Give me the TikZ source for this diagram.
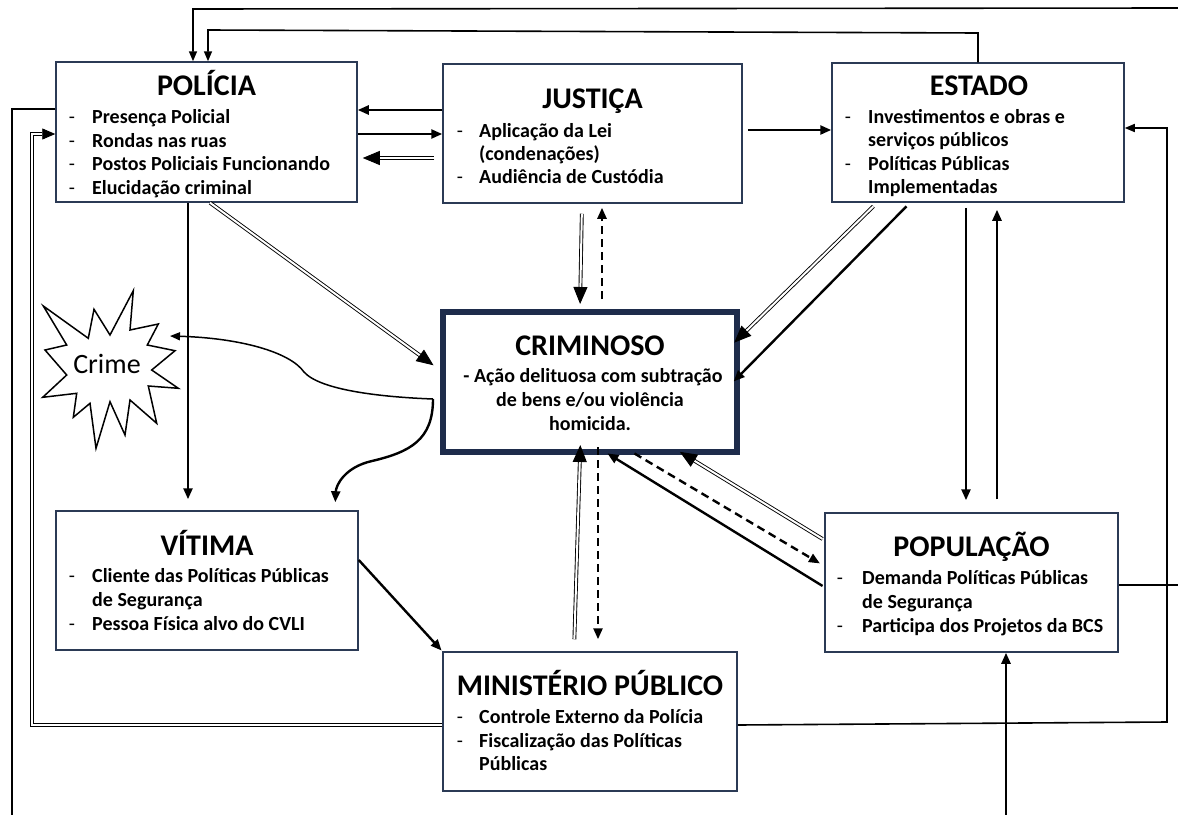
\documentclass[tikz,border=0pt]{standalone}
\usepackage{fontspec}
\setmainfont{Carlito}
\usetikzlibrary{arrows.meta}
\definecolor{boxblue}{HTML}{2B3A55}
\definecolor{crimblue}{HTML}{1E2C4B}
\begin{document}
\begin{tikzpicture}[x=1pt,y=-1pt,
  box/.style={draw=boxblue, line width=1.5pt, fill=white, inner sep=0pt},
  crimbox/.style={draw=crimblue, line width=6pt, fill=white, inner sep=0pt},
  ttl/.style={font=\fontsize{30}{36}\selectfont\bfseries, inner sep=0pt, anchor=base},
  itm/.style={font=\fontsize{20}{24}\selectfont\bfseries, inner sep=0pt, anchor=base west},
  hy/.style={font=\fontsize{20}{24}\selectfont, inner sep=0pt, anchor=base},
  tip/.style={-{Triangle[length=11pt,width=9pt]}},
  thintip/.style={-{Triangle[length=10pt,width=8pt]}},
  conn/.style={line width=2.4pt, tip},
  loopline/.style={line width=1.6pt},
  dblline/.style={double, double distance=2pt, line width=0.9pt, line join=miter},
  dbl/.style={dblline, -{Triangle[length=17pt,width=14pt]}},
  dsh/.style={line width=2.4pt, dash pattern=on 8pt off 5pt, tip},
]
\useasboundingbox[fill=white] (0,0) rectangle (1178,814);

% ---------- boxes ----------
\node[box, minimum width=301pt, minimum height=140pt] (pol) at (206.5,132) {};
\node[box, minimum width=299pt, minimum height=139pt] (jus) at (592.5,133.5) {};
\node[box, minimum width=292pt, minimum height=139pt] (est) at (978,132.5) {};
\node[crimbox, minimum width=294pt, minimum height=140pt] (crim) at (590,382) {};
\node[box, minimum width=302pt, minimum height=139pt] (vit) at (207,580.5) {};
\node[box, minimum width=294pt, minimum height=139pt] (mp) at (590,721.5) {};
\node[box, minimum width=293pt, minimum height=139pt] (pop) at (971.5,582.5) {};

% ---------- texts: POLICIA ----------
\node[ttl] (polT) at (206.5,95) {POLÍCIA};
\node[hy] (polD1) at (72,123) {-};
\node[hy] (polD2) at (72,147) {-};
\node[hy] (polD3) at (72,170) {-};
\node[hy] (polD4) at (72,194) {-};
\node[itm] (polI1) at (92,123) {Presença Policial};
\node[itm] (polI2) at (92,147) {Rondas nas ruas};
\node[itm] (polI3) at (92,170) {Postos Policiais Funcionando};
\node[itm] (polI4) at (92,194) {Elucidação criminal};

% ---------- JUSTICA ----------
\node[ttl] (jusT) at (592.5,108) {JUSTIÇA};
\node[hy] (jusD1) at (460,137) {-};
\node[hy] (jusD2) at (460,183.5) {-};
\node[itm] (jusI1) at (479,137) {Aplicação da Lei};
\node[itm] (jusI1b) at (479,160) {(condenações)};
\node[itm] (jusI2) at (479,183.5) {Audiência de Custódia};

% ---------- ESTADO ----------
\node[ttl] (estT) at (979,95) {ESTADO};
\node[hy] (estD1) at (848,123) {-};
\node[hy] (estD2) at (848,170) {-};
\node[itm] (estI1) at (868,123) {Investimentos e obras e};
\node[itm] (estI1b) at (868,146.5) {serviços públicos};
\node[itm] (estI2) at (868,170) {Políticas Públicas};
\node[itm] (estI2b) at (868,193.5) {Implementadas};

% ---------- CRIMINOSO ----------
\node[ttl] (crimT) at (590,355.5) {CRIMINOSO};
\node[itm, anchor=base] (crimI1) at (593,382.5) {- Ação delituosa com subtração};
\node[itm, anchor=base] (crimI2) at (590,406.5) {de bens e/ou violência};
\node[itm, anchor=base] (crimI3) at (590,430) {homicida.};

% ---------- VITIMA ----------
\node[ttl] (vitT) at (207,555) {VÍTIMA};
\node[hy] (vitD1) at (72,582.5) {-};
\node[hy] (vitD2) at (72,630) {-};
\node[itm] (vitI1) at (92,582.5) {Cliente das Políticas Públicas};
\node[itm] (vitI1b) at (92,606.5) {de Segurança};
\node[itm] (vitI2) at (92,630) {Pessoa Física alvo do CVLI};

% ---------- MINISTERIO PUBLICO ----------
\node[ttl] (mpT) at (590,695) {MINISTÉRIO PÚBLICO};
\node[hy] (mpD1) at (460,723.5) {-};
\node[hy] (mpD2) at (460,747) {-};
\node[itm] (mpI1) at (479,723.5) {Controle Externo da Polícia};
\node[itm] (mpI2) at (479,747) {Fiscalização das Políticas};
\node[itm] (mpI2b) at (479,770.5) {Públicas};

% ---------- POPULACAO ----------
\node[ttl] (popT) at (971.5,556) {POPULAÇÃO};
\node[hy] (popD1) at (840,584.5) {-};
\node[hy] (popD2) at (840,632.5) {-};
\node[itm] (popI1) at (862,584.5) {Demanda Políticas Públicas};
\node[itm] (popI1b) at (862,608.5) {de Segurança};
\node[itm] (popI2) at (862,632.5) {Participa dos Projetos da BCS};

% ---------- Crime starburst ----------
\draw[line width=1.5pt, fill=white, line join=miter]
  (43.3,306) -- (88.3,338.3) -- (94,309.3) -- (110,335) -- (133.3,290.7)
  -- (130,330) -- (158.3,324) -- (147.3,345) -- (175,350.7) -- (151.7,370)
  -- (178.3,388.3) -- (148.3,386) -- (156.7,423.3) -- (130,400) -- (125,435)
  -- (110,401.7) -- (96,448.3) -- (90,403.3) -- (73.3,417.3) -- (76.7,393.3)
  -- (42.7,397.3) -- (66.7,375) -- (45,350) -- (66.7,345) -- cycle;
\node[font=\fontsize{28}{30}\selectfont, inner sep=0pt, anchor=base] (crime) at (107,373.3) {Crime};
\coordinate (crimetip) at (170,336);
\coordinate (cj) at (433,399);

% ---------- outer loops ----------
\coordinate (topR) at (1180,8);
\draw[loopline, thintip] (topR) -- (193,9) -- (193,0 |- pol.north);
\draw[loopline, thintip] (978,0 |- est.north) -- (978,33) -- (208,30) -- (208,0 |- pol.north);

\coordinate (leftB) at (12,816);
\draw[loopline] (pol.west |- 0,109) -- (12,109) -- (leftB);
\draw[dblline, -{Triangle[length=13pt,width=11pt]}] (mp.west |- 0,725) -- (32,725) -- (32,134) -- (pol.west |- 0,134);

\draw[loopline, thintip] (mp.east |- 0,725) -- (1167,722) -- (1167,128) -- (est.east |- 0,128);
\coordinate (popR) at (1180,585);
\draw[loopline] (pop.east |- 0,585) -- (popR);
\coordinate (botP) at (1006,816);
\draw[conn] (botP) -- (1006,0 |- pop.south);

% ---------- Policia / Justica / Estado ----------
\draw[conn] (jus.west |- 0,110) -- (pol.east |- 0,110);
\draw[conn] (pol.east |- 0,134) -- (jus.west |- 0,134);
\draw[dbl, shorten <=8pt, shorten >=5pt] (jus.west |- 0,158) -- (pol.east |- 0,158);
\draw[conn, shorten <=5pt] (jus.east |- 0,130) -- (est.west |- 0,130);

\draw[conn, shorten >=11pt] (188,0 |- pol.south) -- (188,0 |- vit.north);
\draw[dbl, shorten >=8pt] (210,0 |- pol.south) -- (crim.west |- 0,370);

% ---------- Crime curves ----------
\draw[line width=1.5pt, thintip] (cj) .. controls (380,397) and (320,390) .. (304,372) .. controls (290,352) and (240,338) .. (crimetip);
\draw[line width=2.4pt, tip, shorten >=8pt] (cj) .. controls (433,440) and (410,452) .. (372,461) .. controls (345,467) and (336,485) .. (335,0 |- vit.north);

% ---------- Justica <-> Criminoso ----------
\draw[dbl, shorten <=10pt, shorten >=5pt] (582,0 |- jus.south) -- (580,0 |- crim.north);
\draw[dsh, shorten <=10pt, shorten >=4pt] (602,0 |- crim.north) -- (602,0 |- jus.south);

% ---------- Estado -> Criminoso ----------
\draw[dbl, shorten <=5pt, shorten >=-8pt] (877,0 |- est.south) -- (crim.east |- 0,337);
\draw[conn, shorten <=5pt, shorten >=-9pt] (910,0 |- est.south) -- (crim.east |- 0,375);

% ---------- Estado <-> Populacao ----------
\draw[conn, shorten <=5pt, shorten >=12pt] (966,0 |- est.south) -- (966,0 |- pop.north);
\draw[conn, shorten <=13pt, shorten >=7pt] (997,0 |- pop.north) -- (997,0 |- est.south);

% ---------- Populacao <-> Criminoso ----------
\draw[dbl, shorten <=2pt, shorten >=-6pt] (pop.west |- 0,540) -- (685,0 |- crim.south);
\draw[dsh, shorten <=-3pt, shorten >=5pt] (637,0 |- crim.south) -- (pop.west |- 0,566);
\draw[conn, shorten <=2pt, shorten >=-3pt] (pop.west |- 0,587) -- (610,0 |- crim.south);

% ---------- MP <-> Criminoso ----------
\draw[dbl, shorten <=12pt, shorten >=-10pt] (574,0 |- mp.north) -- (580,0 |- crim.south);
\draw[dsh, shorten <=-8pt, shorten >=12pt] (598,0 |- crim.south) -- (598,0 |- mp.north);

% ---------- Vitima -> MP ----------
\draw[conn, shorten >=1pt] (vit.east |- 0,560) -- (mp.north west);
\end{tikzpicture}
\end{document}
